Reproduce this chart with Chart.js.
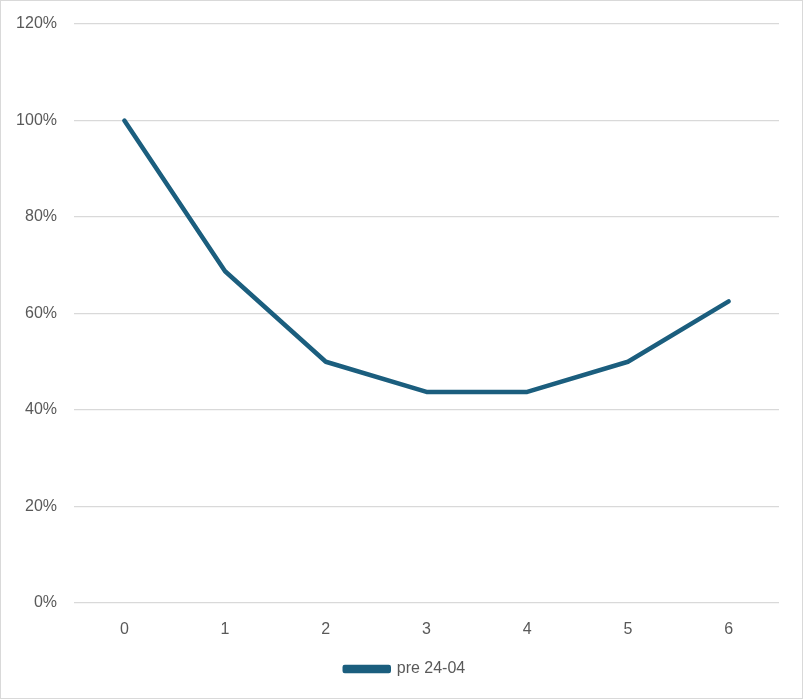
<!DOCTYPE html>
<html>
<head>
<meta charset="utf-8">
<script src="https://cdn.jsdelivr.net/npm/chart.js@4.4.1/dist/chart.umd.min.js"></script>
<style>
  body { margin: 0; background: #fff; }
  #wrap { width: 803px; height: 699px; box-sizing: border-box; border: 1px solid #d9d9d9; }
</style>
</head>
<body>
<div id="wrap"><canvas id="chart" width="801" height="697"></canvas></div>
<script>
var etichette = ["0", "1", "2", "3", "4", "5", "6"];
var valori = [100, 68.75, 50, 43.75, 43.75, 50, 62.5];
var nomeSerie = "pre 24-04";

var grigio = "#595959";
var linea = "#1b5e7e";
var font = "'Liberation Sans', Arial, sans-serif";

// la legenda va centrata sulla larghezza intera, non sull'area con padding
var spostaLegenda = {
  id: "spostaLegenda",
  afterLayout: function (c) {
    if (c.legend) {
      c.legend.left += 15;
      c.legend.right += 15;
    }
  }
};

var chart = new Chart("chart", {
  type: "line",
  data: {
    labels: etichette,
    datasets: [
      {
        label: nomeSerie,
        data: valori,
        borderColor: linea,
        backgroundColor: linea,
        borderWidth: 4.5,
        borderCapStyle: "round",
        borderJoinStyle: "round",
        pointRadius: 0,
        tension: 0
      }
    ]
  },
  plugins: [spostaLegenda],
  options: {
    responsive: false,
    animation: false,
    layout: { padding: { top: 23, right: 23, left: 0, bottom: 11 } },
    plugins: {
      tooltip: { enabled: false },
      legend: {
        position: "bottom",
        labels: {
          color: grigio,
          font: { size: 16, family: font },
          boxWidth: 44,
          boxHeight: 4,
          padding: 10
        }
      }
    },
    scales: {
      x: {
        offset: true,
        grid: { display: false },
        border: { display: false },
        ticks: { color: grigio, font: { size: 16, family: font }, padding: 9 },
        afterFit: function (s) { s.height = 48; }
      },
      y: {
        min: 0,
        max: 120,
        grid: { color: "#d9d9d9", lineWidth: 1.3, drawTicks: false },
        border: { display: false },
        ticks: {
          stepSize: 20,
          color: grigio,
          padding: 17,
          font: { size: 16, family: font },
          callback: function (v) { return v + "%"; }
        },
        afterFit: function (s) {
          s.width = 73;
          s.paddingTop = 0;
          s.paddingBottom = 0;
        }
      }
    }
  }
});
</script>
</body>
</html>
